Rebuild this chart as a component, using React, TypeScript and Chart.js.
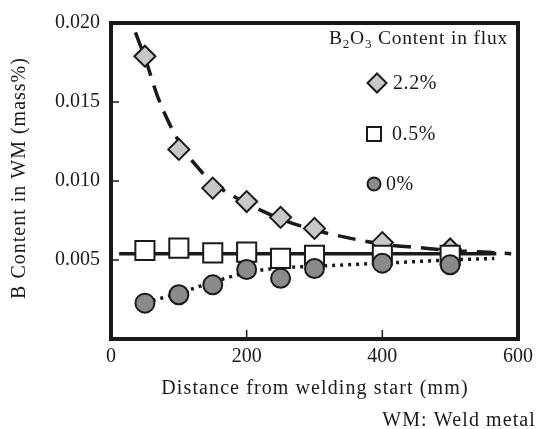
import React, { useEffect, useRef } from 'react';
import { Chart, registerables } from 'chart.js';

Chart.register(...registerables);

// Measured points
const distances = [50, 100, 150, 200, 250, 300, 400, 500];
const flux22 = [0.0179, 0.0120, 0.00955, 0.0087, 0.0077, 0.0070, 0.0061, 0.0057];
const flux05 = [0.0056, 0.00575, 0.00545, 0.0055, 0.0051, 0.0053, 0.0053, 0.0053];
const flux0 = [0.00227, 0.0028, 0.00343, 0.0044, 0.00384, 0.00446, 0.0048, 0.0047];

// Trend curves
const trend22X = [36, 50, 70, 100, 125, 150, 200, 250, 300, 350, 400, 450, 500, 550, 590];
const trend22Y = [0.0194, 0.0178, 0.0152, 0.0125, 0.0110, 0.0099, 0.0086, 0.0076, 0.0069, 0.0064, 0.0060, 0.0058, 0.0056, 0.0055, 0.0054];
const trend05X = [12, 568];
const trend05Y = [0.0054, 0.0054];
const trend0X = [50, 100, 150, 200, 250, 300, 350, 400, 450, 500, 565];
const trend0Y = [0.0023, 0.0029, 0.0036, 0.0042, 0.0045, 0.0046, 0.0047, 0.0048, 0.0049, 0.0050, 0.0051];

const xTicks = [0, 200, 400, 600];
const yTicks = [0.005, 0.010, 0.015, 0.020];

const legendLabels = ['2.2%', '0.5%', '0%'];
const legendTitle = ['B', '2', 'O', '3', ' Content in flux'];
const xTitle = 'Distance from welding start (mm)';
const yTitle = 'B Content in WM (mass%)';
const footnote = 'WM: Weld metal';

const SERIF = '"Liberation Serif", "DejaVu Serif", serif';
const INK = '#1a1a1a';

const toPts = (xs: number[], ys: number[]) => xs.map((x, i) => ({ x, y: ys[i] }));

const decorPlugin = {
  id: 'decor',
  afterDatasetsDraw(chart: any) {
    const { ctx, chartArea } = chart;
    const { left, right, top, bottom } = chartArea;
    const xs = chart.scales.x;
    const ys = chart.scales.y;
    ctx.save();
    ctx.strokeStyle = INK;
    ctx.lineWidth = 1.5;
    ctx.beginPath();
    yTicks.forEach((v) => {
      const py = ys.getPixelForValue(v);
      ctx.moveTo(left, py);
      ctx.lineTo(left + 8, py);
    });
    xTicks.forEach((v) => {
      const px = xs.getPixelForValue(v);
      ctx.moveTo(px, bottom);
      ctx.lineTo(px, bottom - 9);
    });
    ctx.stroke();
    ctx.lineWidth = 4;
    ctx.strokeRect(left, top, right - left, bottom - top);
    ctx.restore();
  },
  afterDraw(chart: any) {
    const { ctx } = chart;
    ctx.save();
    ctx.fillStyle = INK;
    ctx.letterSpacing = '1.1px';
    ctx.font = `20px ${SERIF}`;
    ctx.textAlign = 'center';
    ctx.textBaseline = 'alphabetic';
    ctx.fillText(xTitle, 315, 394);
    ctx.textAlign = 'right';
    ctx.fillText(footnote, 536, 426);
    ctx.save();
    ctx.translate(25, 178);
    ctx.rotate(-Math.PI / 2);
    ctx.textAlign = 'center';
    ctx.letterSpacing = '1px';
    ctx.fillText(yTitle, 0, 0);
    ctx.restore();

    // legend title with subscripts
    ctx.textAlign = 'left';
    ctx.letterSpacing = '0.8px';
    let x = 329;
    const base = 44;
    legendTitle.forEach((s, i) => {
      const sub = i === 1 || i === 3;
      ctx.font = sub ? `13px ${SERIF}` : `19.5px ${SERIF}`;
      ctx.fillText(s, x, sub ? base + 4 : base);
      x += ctx.measureText(s).width;
    });

    // legend items
    ctx.font = `20px ${SERIF}`;
    ctx.letterSpacing = '0.6px';
    ctx.textBaseline = 'middle';
    ctx.lineWidth = 2;
    ctx.strokeStyle = INK;
    const dy = 83;
    ctx.beginPath();
    ctx.moveTo(377, dy - 9.5);
    ctx.lineTo(386.5, dy);
    ctx.lineTo(377, dy + 9.5);
    ctx.lineTo(367.5, dy);
    ctx.closePath();
    ctx.fillStyle = '#c8c8c8';
    ctx.fill();
    ctx.stroke();
    ctx.fillStyle = INK;
    ctx.fillText(legendLabels[0], 393, dy + 1);
    const sy = 134;
    ctx.fillStyle = '#ffffff';
    ctx.fillRect(367, sy - 7, 14, 14);
    ctx.strokeRect(367, sy - 7, 14, 14);
    ctx.fillStyle = INK;
    ctx.fillText(legendLabels[1], 392, sy + 1);
    const cy = 184;
    ctx.beginPath();
    ctx.arc(374, cy, 6.5, 0, Math.PI * 2);
    ctx.fillStyle = '#8a8a8a';
    ctx.fill();
    ctx.stroke();
    ctx.fillStyle = INK;
    ctx.fillText(legendLabels[2], 386, cy + 1);
    ctx.restore();
  },
};

export default function App() {
  const ref = useRef<HTMLCanvasElement | null>(null);
  useEffect(() => {
    if (!ref.current) return;
    const markerCommon = {
      showLine: false,
      borderColor: INK,
      borderWidth: 2,
      pointBorderWidth: 2,
    };
    const chart = new Chart(ref.current, {
      type: 'scatter',
      data: {
        datasets: [
          { ...markerCommon, label: '0%', data: toPts(distances, flux0), pointStyle: 'circle', pointRadius: 9.5, backgroundColor: '#8a8a8a' },
          { ...markerCommon, label: '0.5%', data: toPts(distances, flux05), pointStyle: 'rect', pointRadius: 13.5, backgroundColor: '#ffffff' },
          { ...markerCommon, label: '2.2%', data: toPts(distances, flux22), pointStyle: 'rectRot', pointRadius: 10.5, backgroundColor: '#c8c8c8' },
          { label: 'trend 0%', data: toPts(trend0X, trend0Y), showLine: true, pointRadius: 0, borderColor: INK, borderWidth: 3.5, borderDash: [3, 5], cubicInterpolationMode: 'monotone' },
          { label: 'trend 0.5%', data: toPts(trend05X, trend05Y), showLine: true, pointRadius: 0, borderColor: INK, borderWidth: 3.5 },
          { label: 'trend 2.2%', data: toPts(trend22X, trend22Y), showLine: true, pointRadius: 0, borderColor: INK, borderWidth: 3.5, borderDash: [18, 10], cubicInterpolationMode: 'monotone' },
        ],
      } as any,
      options: {
        animation: false,
        responsive: false,
        maintainAspectRatio: false,
        layout: { padding: { top: 18, right: 17, left: 0, bottom: 0 } },
        plugins: { legend: { display: false }, tooltip: { enabled: false } },
        scales: {
          x: {
            type: 'linear',
            min: 0,
            max: 600,
            afterFit: (s: any) => { s.height = 90; },
            afterBuildTicks: (s: any) => { s.ticks = xTicks.map((v) => ({ value: v })); },
            ticks: { color: INK, font: { family: SERIF, size: 20 }, padding: 6, maxRotation: 0 },
            grid: { display: false, drawTicks: false },
            border: { display: false },
          },
          y: {
            type: 'linear',
            min: 0,
            max: 0.02,
            afterFit: (s: any) => { s.width = 111; },
            afterBuildTicks: (s: any) => { s.ticks = yTicks.map((v) => ({ value: v })); },
            ticks: { color: INK, font: { family: SERIF, size: 20 }, padding: 11, callback: (v: any) => Number(v).toFixed(3) },
            grid: { display: false, drawTicks: false },
            border: { display: false },
          },
        },
      } as any,
      plugins: [decorPlugin],
    });
    return () => chart.destroy();
  }, []);
  return (
    <div style={{ position: 'fixed', left: 0, top: 0, width: 539, height: 429, background: '#fff' }}>
      <canvas ref={ref} width={539} height={429} style={{ width: 539, height: 429, display: 'block' }} />
    </div>
  );
}
